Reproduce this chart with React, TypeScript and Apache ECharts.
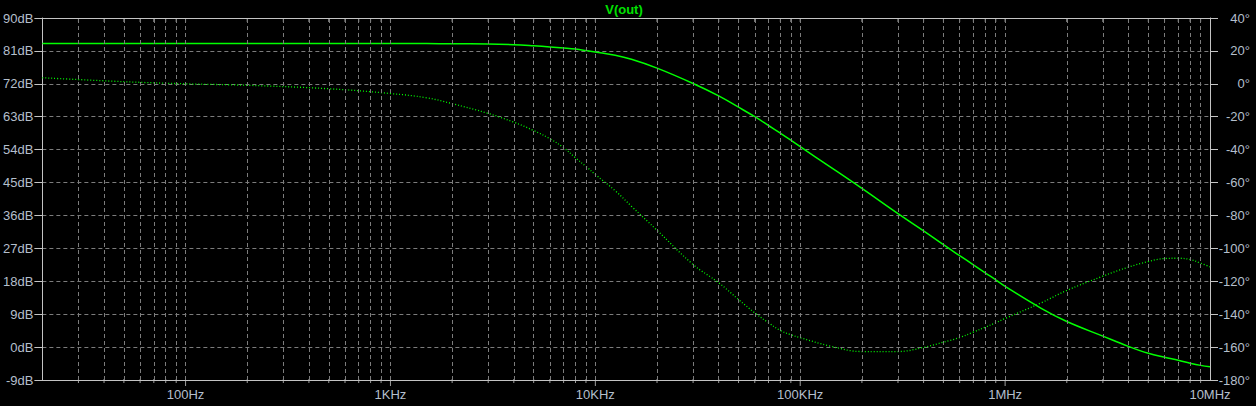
import React, { useEffect, useRef } from 'react';
import * as echarts from 'echarts';

// Frequency sample points (Hz)
const freqHz = [
  20, 50, 100, 200, 500, 1e3, 1.5e3, 2e3, 3e3, 4e3, 5e3, 6e3, 7e3, 8e3, 9e3,
  1e4, 1.25e4, 1.5e4, 2e4, 3e4, 4e4, 5e4, 6e4, 7e4, 8e4, 9e4, 1e5, 1.4e5, 2e5, 3e5,
  4e5, 5e5, 6e5, 7e5, 8e5, 9e5, 1e6, 1.5e6, 2e6, 3e6, 4e6, 5e6, 6e6, 7e6,
  8e6, 9e6, 1e7,
];

// Magnitude of V(out) in dB (solid trace, left axis)
const magnitudeDb = [
  83.0, 83.0, 83.0, 83.0, 83.0, 83.0, 83.0, 82.95, 82.9, 82.7, 82.4, 82.1,
  81.8, 81.5, 81.1, 80.7, 79.8, 78.7, 76.3, 72.1, 68.7, 65.6, 63.0, 60.6, 58.5,
  56.6, 54.8, 49.3, 43.4, 36.5, 31.8, 28.0, 25.0, 22.5, 20.3, 18.4, 16.6,
  10.6, 7.0, 3.0, 0.2, -1.7, -2.8, -3.6, -4.4, -5.0, -5.4,
];

// Phase of V(out) in degrees (dotted trace, right axis)
const phaseDeg = [
  3.7, 1.3, 0.0, -0.9, -3.0, -5.9, -8.5, -12.0, -18.0, -23.3, -28.4, -33.4,
  -38.8, -45.0, -50.2, -55.1, -65.0, -74.4, -89.0, -109.8, -120.9, -131.1, -139.2,
  -145.2, -149.9, -152.5, -154.3, -159.4, -162.7, -162.7, -160.2, -157.0,
  -154.2, -150.9, -147.9, -145.2, -142.6, -133.1, -125.6, -116.9, -111.4,
  -108.0, -106.2, -106.0, -106.8, -109.0, -111.2,
];

// Axis definitions
const xMinHz = 20;
const xMaxHz = 1e7;
const decadesHz = [10, 100, 1e3, 1e4, 1e5, 1e6, 1e7];
const decadeSteps = [1, 2, 3, 4, 5, 6, 7, 8, 9];
const dbMin = -9;
const dbMax = 90;
const dbStep = 9;
const degMin = -180;
const degMax = 40;
const degStep = 20;
const traceName = 'V(out)';

const gridHz: number[] = [];
decadesHz.forEach((d) =>
  decadeSteps.forEach((m) => {
    const f = d * m;
    if (f > xMinHz && f < xMaxHz) gridHz.push(f);
  })
);
const isDecade = (f: number) => decadesHz.indexOf(f) >= 0;

const fmtFreq = (v: number) => {
  const r = Math.round(v);
  if (!isDecade(r) || r < 100) return '';
  if (r >= 1e6) return r / 1e6 + 'MHz';
  if (r >= 1e3) return r / 1e3 + 'KHz';
  return r + 'Hz';
};

const LABEL_COLOR = '#b4bfcc';
const AXIS_COLOR = '#c4c4c4';
const GRID_COLOR = '#7c7c7c';
const TRACE_COLOR = '#00ff00';
const FONT = '"Liberation Sans", Arial, sans-serif';

export default function App() {
  const ref = useRef<HTMLDivElement>(null);

  useEffect(() => {
    if (!ref.current) return;
    const chart = echarts.init(ref.current, undefined, { renderer: 'svg' });

    const magData = freqHz.map((f, i) => [f, magnitudeDb[i]]);
    const phaseData = freqHz.map((f, i) => [f, phaseDeg[i]]);
    const minorBottom = gridHz.filter((f) => !isDecade(f)).map((f) => [f, dbMin]);
    const majorBottom = gridHz.filter((f) => isDecade(f)).map((f) => [f, dbMin]);
    const topTicks = gridHz.map((f) => [f, dbMax]);

    const option: any = {
      animation: false,
      backgroundColor: '#000000',
      grid: { left: 40, right: 46, top: 18, bottom: 26, containLabel: false },
      graphic: [
        {
          type: 'text',
          x: 624,
          y: 9,
          style: {
            text: traceName,
            fill: '#00e000',
            font: 'bold 13px "Liberation Sans", Arial, sans-serif',
            textAlign: 'center',
            textVerticalAlign: 'middle',
          },
        },
      ],
      xAxis: [
        {
          type: 'log',
          logBase: 10,
          min: xMinHz,
          max: xMaxHz,
          position: 'bottom',
          axisLine: { show: true, onZero: false, lineStyle: { color: AXIS_COLOR, width: 1 } },
          axisTick: { show: false },
          splitLine: { show: false },
          minorTick: { show: false },
          axisLabel: {
            formatter: fmtFreq,
            color: LABEL_COLOR,
            fontSize: 13,
            fontFamily: FONT,
            margin: 8,
            showMinLabel: true,
            showMaxLabel: true,
          },
        },
        {
          type: 'log',
          logBase: 10,
          min: xMinHz,
          max: xMaxHz,
          position: 'top',
          axisLine: { show: true, onZero: false, lineStyle: { color: AXIS_COLOR, width: 1 } },
          axisTick: { show: false },
          axisLabel: { show: false },
          splitLine: { show: false },
        },
      ],
      yAxis: [
        {
          type: 'value',
          min: dbMin,
          max: dbMax,
          interval: dbStep,
          position: 'left',
          axisLine: { show: true, onZero: false, lineStyle: { color: AXIS_COLOR, width: 1 } },
          axisTick: { show: true, length: 8, lineStyle: { color: AXIS_COLOR } },
          axisLabel: {
            formatter: '{value}dB',
            color: LABEL_COLOR,
            fontSize: 13,
            fontFamily: FONT,
            margin: 9,
          },
          splitLine: {
            show: true,
            showMinLine: false,
            showMaxLine: false,
            lineStyle: { color: GRID_COLOR, type: [4, 3], width: 1 },
          },
        },
        {
          type: 'value',
          min: degMin,
          max: degMax,
          interval: degStep,
          position: 'right',
          axisLine: { show: true, onZero: false, lineStyle: { color: AXIS_COLOR, width: 1 } },
          axisTick: { show: true, length: 8, lineStyle: { color: AXIS_COLOR } },
          axisLabel: {
            formatter: '{value}°',
            color: LABEL_COLOR,
            fontSize: 13,
            fontFamily: FONT,
            align: 'right',
            margin: 40,
          },
          splitLine: { show: false },
        },
      ],
      series: [
        {
          type: 'scatter',
          name: 'minorTicks',
          xAxisIndex: 0,
          yAxisIndex: 0,
          data: minorBottom,
          symbol: 'rect',
          symbolSize: [1, 4],
          symbolOffset: [0, 1],
          itemStyle: { color: AXIS_COLOR },
          silent: true,
          clip: false,
          z: 1,
          markLine: {
            silent: true,
            symbol: ['none', 'none'],
            label: { show: false },
            lineStyle: { color: GRID_COLOR, type: [4, 3], width: 1 },
            emphasis: { disabled: true },
            animation: false,
            data: gridHz.map((f) => ({ xAxis: f })),
          },
        },
        {
          type: 'scatter',
          name: 'majorTicks',
          xAxisIndex: 0,
          yAxisIndex: 0,
          data: majorBottom,
          symbol: 'rect',
          symbolSize: [1, 6],
          symbolOffset: [0, 3],
          itemStyle: { color: AXIS_COLOR },
          silent: true,
          clip: false,
          z: 1,
        },
        {
          type: 'scatter',
          name: 'topTicks',
          xAxisIndex: 0,
          yAxisIndex: 0,
          data: topTicks,
          symbol: 'rect',
          symbolSize: [1, 4],
          symbolOffset: [0, 2],
          itemStyle: { color: AXIS_COLOR },
          silent: true,
          clip: false,
          z: 1,
        },
        {
          type: 'line',
          name: 'magnitude',
          xAxisIndex: 0,
          yAxisIndex: 0,
          data: magData,
          showSymbol: false,
          smooth: 0.4,
          lineStyle: { color: TRACE_COLOR, width: 1.5 },
          z: 3,
        },
        {
          type: 'line',
          name: 'phase',
          xAxisIndex: 0,
          yAxisIndex: 1,
          data: phaseData,
          showSymbol: false,
          smooth: 0.4,
          lineStyle: { color: TRACE_COLOR, width: 1.3, type: [1, 2] },
          z: 3,
        },
      ],
    };

    chart.setOption(option);
    return () => chart.dispose();
  }, []);

  return (
    <div
      ref={ref}
      style={{ position: 'absolute', left: 0, top: 0, width: 1256, height: 406, background: '#000' }}
    />
  );
}
